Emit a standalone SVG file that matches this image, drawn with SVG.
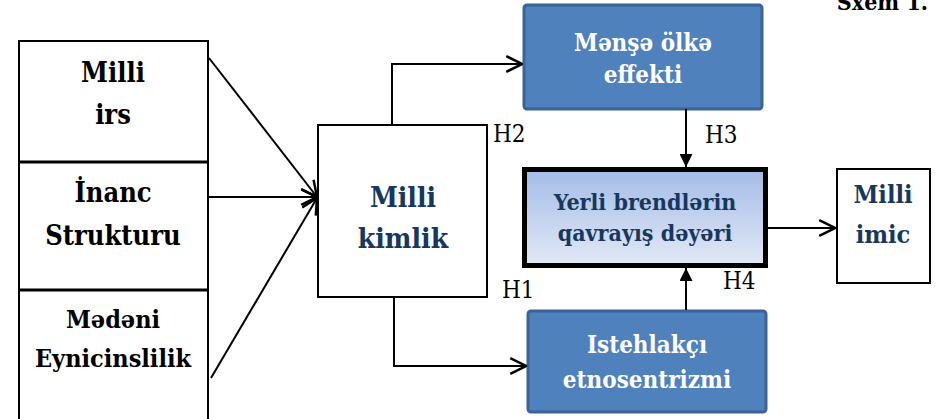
<svg xmlns="http://www.w3.org/2000/svg" width="935" height="419" viewBox="0 0 935 419">
<defs>
<marker id="open2" viewBox="0 0 16 16" refX="15" refY="8" markerWidth="18" markerHeight="18" markerUnits="userSpaceOnUse" orient="auto">
<path d="M1,1 L15,8 L1,15" fill="none" stroke="#000" stroke-width="2.2"/>
</marker>
<marker id="solid" viewBox="0 0 12 12" refX="12" refY="6" markerWidth="13" markerHeight="13" markerUnits="userSpaceOnUse" orient="auto">
<path d="M0,0 L12,6 L0,12 Z" fill="#000"/>
</marker>
<linearGradient id="mid" x1="0" y1="0" x2="0" y2="1">
<stop offset="0" stop-color="#a3bce6"/>
<stop offset="1" stop-color="#e2e9f6"/>
</linearGradient>
</defs>
<style>
.t{font-weight:bold;text-anchor:middle}
.h{font-size:24px}
.box{fill:#fff;stroke:#000;stroke-width:2}
.blue{fill:#4f81bd;stroke:#3a6397;stroke-width:3}
.w{fill:#fff}
.n{fill:#17375e}
.ln{fill:none;stroke:#000;stroke-width:2}
</style>
<g font-family="DejaVu Serif Condensed, DejaVu Serif, serif">
<text x="928" y="10" font-weight="bold" font-size="23" text-anchor="end">Sxem 1.</text>
<g id="milli-irs">
<rect class="box" x="19" y="41" width="189" height="121"/>
<text class="t" x="113" y="82" font-size="27">Milli</text>
<text class="t" x="113" y="124" font-size="27">irs</text>
</g>
<g id="inanc-strukturu">
<rect class="box" x="19" y="162" width="189" height="128"/>
<text class="t" x="113" y="202" font-size="27">İnanc</text>
<text class="t" x="113" y="245" font-size="27">Strukturu</text>
</g>
<g id="medeni-eynicinslilik">
<rect class="box" x="19" y="290" width="189" height="140"/>
<text class="t" x="113" y="328" font-size="25">Mədəni</text>
<text class="t" x="113" y="367" font-size="25">Eynicinslilik</text>
</g>
<line x1="19" y1="162" x2="208" y2="162" stroke="#000" stroke-width="3"/>
<line x1="19" y1="290" x2="208" y2="290" stroke="#000" stroke-width="3"/>
<g id="milli-kimlik">
<rect class="box" x="318" y="125" width="169" height="172"/>
<text class="t n" x="403" y="207" font-size="28">Milli</text>
<text class="t n" x="403" y="248" font-size="28">kimlik</text>
</g>
<g id="mense-olke-effekti">
<rect class="blue" x="524" y="5" width="238" height="104" rx="3"/>
<text class="t w" x="643" y="51" font-size="24">Mənşə ölkə</text>
<text class="t w" x="643" y="83" font-size="24">effekti</text>
</g>
<g id="yerli-brendler">
<rect x="524.5" y="169.5" width="241" height="96" fill="url(#mid)" stroke="#000" stroke-width="5"/>
<text class="t n" x="645" y="210" font-size="23">Yerli brendlərin</text>
<text class="t n" x="645" y="241" font-size="23">qavrayış dəyəri</text>
</g>
<g id="istehlakci-etnosentrizmi">
<rect class="blue" x="528" y="311" width="238" height="101" rx="3"/>
<text class="t w" x="647" y="353" font-size="24">Istehlakçı</text>
<text class="t w" x="647" y="388" font-size="24">etnosentrizmi</text>
</g>
<g id="milli-imic">
<rect class="box" x="837" y="169" width="93" height="114"/>
<text class="t n" x="883" y="203" font-size="25">Milli</text>
<text class="t n" x="883" y="243" font-size="25">imic</text>
</g>
<g id="connectors">
<line class="ln" x1="209" y1="58" x2="317" y2="197" marker-end="url(#open2)"/>
<line class="ln" x1="209" y1="197" x2="317" y2="197" marker-end="url(#open2)"/>
<line class="ln" x1="211" y1="378" x2="317" y2="198" marker-end="url(#open2)"/>
<polyline class="ln" points="392,125 392,64 522,64" marker-end="url(#open2)"/>
<polyline class="ln" points="394,297 394,366 526,366" marker-end="url(#open2)"/>
<line class="ln" x1="686" y1="109" x2="686" y2="167" marker-end="url(#solid)"/>
<line class="ln" x1="686" y1="310" x2="686" y2="268" marker-end="url(#solid)"/>
<line class="ln" x1="768" y1="228" x2="835" y2="228" marker-end="url(#open2)"/>
</g>
<text class="h" x="493" y="142">H2</text>
<text class="h" x="502" y="298">H1</text>
<text class="h" x="705" y="143">H3</text>
<text class="h" x="723" y="289">H4</text>
</g>
</svg>
